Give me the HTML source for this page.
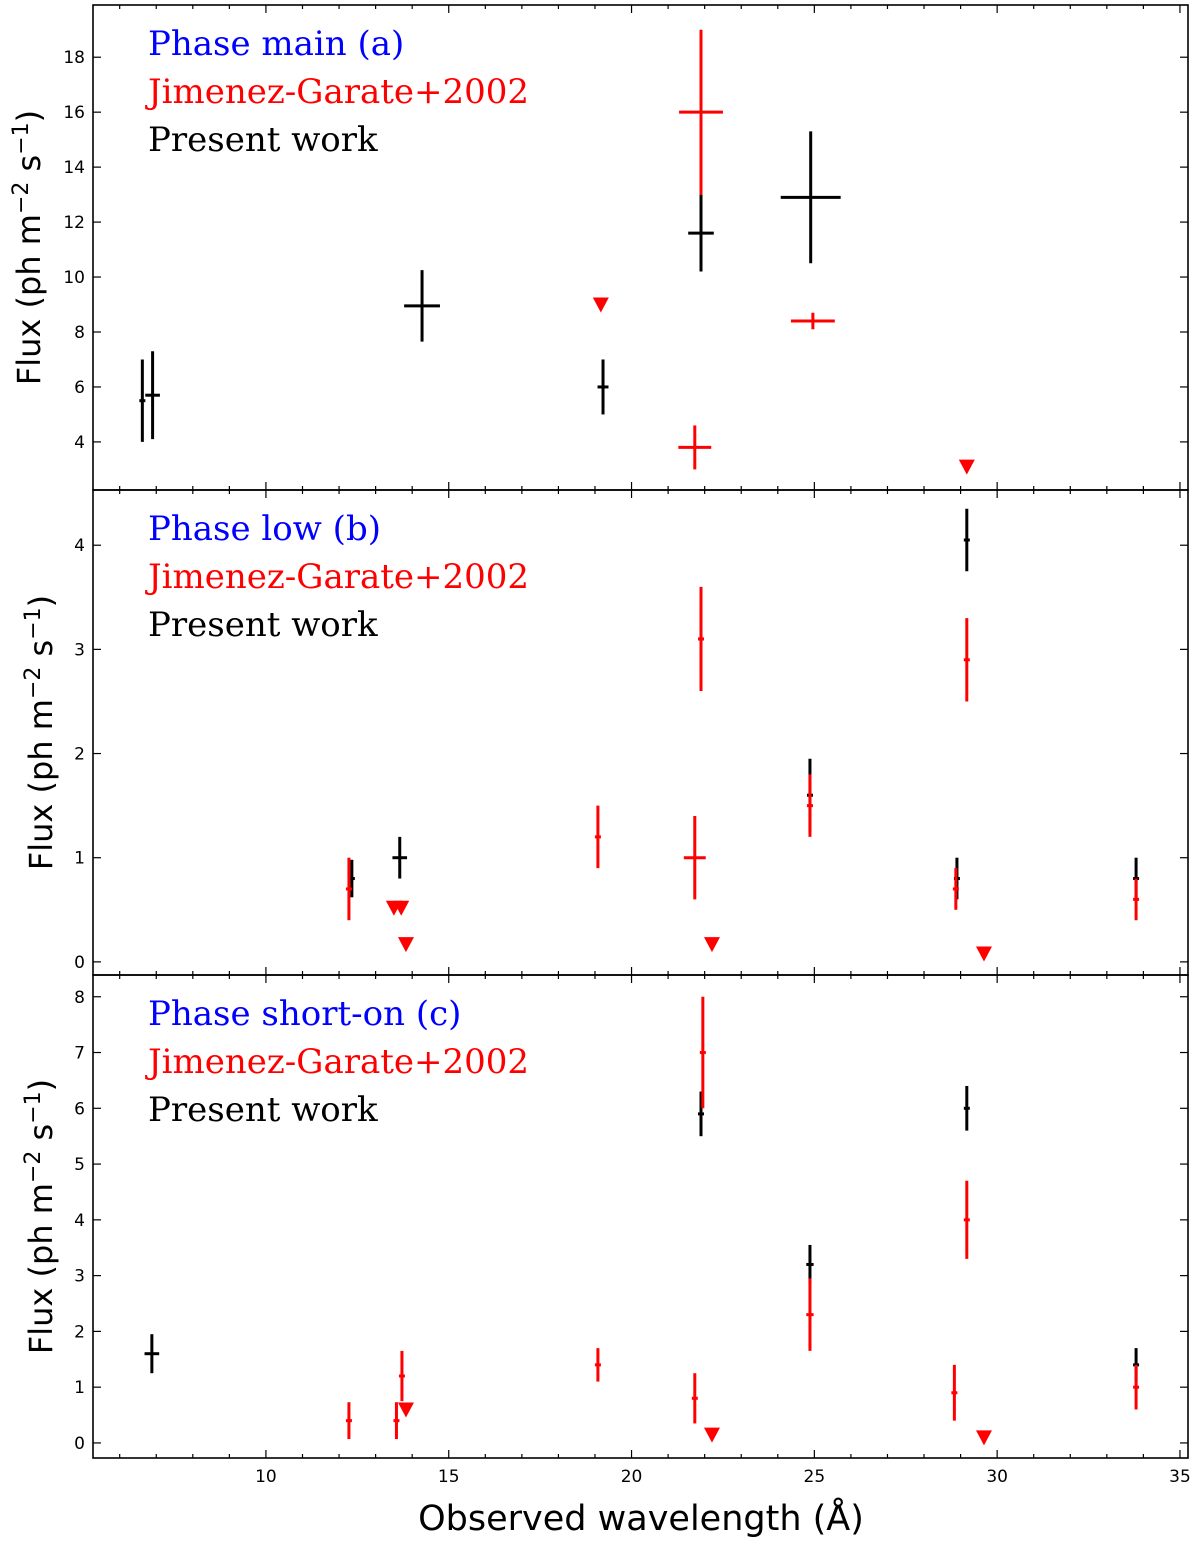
<!DOCTYPE html>
<html><head><meta charset="utf-8"><style>
body{margin:0;background:#fff;}
svg{display:block;}
</style></head><body>
<svg id="chart" width="1200" height="1542" xmlns="http://www.w3.org/2000/svg"></svg>
<script>
// x = wavelength, y = flux, xe = x error, ye = y error
const aBlackX=[6.62,6.9,14.27,19.22,21.9,24.9];
const aBlackY=[5.5,5.7,8.95,6.0,11.6,12.9];
const aBlackXe=[0,0.2,0.49,0.15,0.35,0.82];
const aBlackYe=[1.5,1.6,1.3,1.0,1.4,2.4];
const aRedX=[21.9,21.73,24.96];
const aRedY=[16.0,3.8,8.4];
const aRedXe=[0.6,0.45,0.6];
const aRedYe=[3.0,0.8,0.3];
const aLimX=[19.16,29.17];
const aLimY=[9.0,3.1];

const bBlackX=[12.35,13.66,21.9,29.17,24.88,28.9,33.8];
const bBlackY=[0.8,1.0,3.1,4.05,1.6,0.8,0.8];
const bBlackXe=[0.05,0.2,0,0,0,0,0];
const bBlackYe=[0.18,0.2,0.3,0.3,0.35,0.2,0.2];
const bRedX=[12.27,19.08,21.73,21.9,29.17,24.88,28.87,33.8];
const bRedY=[0.7,1.2,1.0,3.1,2.9,1.5,0.7,0.6];
const bRedXe=[0,0.05,0.3,0,0.05,0.05,0.05,0.05];
const bRedYe=[0.3,0.3,0.4,0.5,0.4,0.3,0.2,0.2];
const bLimX=[13.5,13.7,13.83,22.2,29.64];
const bLimY=[0.52,0.52,0.17,0.17,0.08];

const cBlackX=[6.88,21.9,29.17,24.88,33.8];
const cBlackY=[1.6,5.9,6.0,3.2,1.4];
const cBlackXe=[0.2,0,0.05,0.1,0.05];
const cBlackYe=[0.35,0.4,0.4,0.35,0.3];
const cRedX=[12.27,13.57,13.72,19.08,21.73,21.95,29.17,24.88,28.83,33.8];
const cRedY=[0.4,0.4,1.2,1.4,0.8,7.0,4.0,2.3,0.9,1.0];
const cRedXe=[0,0,0,0.05,0,0.05,0.05,0.1,0.05,0.05];
const cRedYe=[0.33,0.33,0.45,0.3,0.45,1.0,0.7,0.65,0.5,0.4];
const cLimX=[13.83,22.2,29.64];
const cLimY=[0.6,0.15,0.1];

const xTicks=[10,15,20,25,30,35];
const aTicks=[4,6,8,10,12,14,16,18];
const bTicks=[0,1,2,3,4];
const cTicks=[0,1,2,3,4,5,6,7,8];

const NS="http://www.w3.org/2000/svg";
const svg=document.getElementById('chart');
const L=93,R=1188;
const xmin=5.27,xmax=35.22;
function X(v){return L+(v-xmin)/(xmax-xmin)*(R-L);}
function mk(tag,attrs,parent){const e=document.createElementNS(NS,tag);for(const k in attrs)e.setAttribute(k,attrs[k]);(parent||svg).appendChild(e);return e;}

const panels=[
 {key:'a',top:5,bot:490,ymin:2.25,ymax:19.9,ticks:aTicks,title:'Phase main (a)',
  bx:aBlackX,by:aBlackY,bxe:aBlackXe,bye:aBlackYe,rx:aRedX,ry:aRedY,rxe:aRedXe,rye:aRedYe,lx:aLimX,ly:aLimY},
 {key:'b',top:490,bot:975,ymin:-0.126,ymax:4.53,ticks:bTicks,title:'Phase low (b)',
  bx:bBlackX,by:bBlackY,bxe:bBlackXe,bye:bBlackYe,rx:bRedX,ry:bRedY,rxe:bRedXe,rye:bRedYe,lx:bLimX,ly:bLimY},
 {key:'c',top:975,bot:1458,ymin:-0.27,ymax:8.39,ticks:cTicks,title:'Phase short-on (c)',
  bx:cBlackX,by:cBlackY,bxe:cBlackXe,bye:cBlackYe,rx:cRedX,ry:cRedY,rxe:cRedXe,rye:cRedYe,lx:cLimX,ly:cLimY}
];

panels.forEach((p,pi)=>{
 const g=mk('g',{});
 
 
 const Y=v=>p.bot-(v-p.ymin)/(p.ymax-p.ymin)*(p.bot-p.top);
 function errs(xs,ys,xe,ye,col,name){
  xs.forEach((x,i)=>{
   const eg=mk('g',{},g);
   
   
   mk('line',{x1:X(x),x2:X(x),y1:Y(ys[i]-ye[i]),y2:Y(ys[i]+ye[i]),stroke:col,'stroke-width':3},eg);
   const hw=Math.max(X(x+xe[i])-X(x),3);
   mk('line',{x1:X(x)-hw,x2:X(x)+hw,y1:Y(ys[i]),y2:Y(ys[i]),stroke:col,'stroke-width':3},eg);
  });
 }
 errs(p.bx,p.by,p.bxe,p.bye,'#000','present-work');
 errs(p.rx,p.ry,p.rxe,p.rye,'#f00','jimenez-garate');
 p.lx.forEach((x,i)=>{
  const cx=X(x),cy=Y(p.ly[i]);
  const t=mk('polygon',{points:`${cx-8},${cy-7} ${cx+8},${cy-7} ${cx},${cy+8}`,fill:'#f00'},g);
  
  
 });
 const fr=mk('rect',{x:L,y:p.top,width:R-L,height:p.bot-p.top,fill:'none',stroke:'#000','stroke-width':1.6},g);
 
 
 for(let v=6;v<=35;v++){
  const major=v%5===0, len=major?8:4;
  mk('line',{x1:X(v),x2:X(v),y1:p.bot,y2:p.bot-len,stroke:'#000','stroke-width':1.2},g);
  mk('line',{x1:X(v),x2:X(v),y1:p.top,y2:p.top+len,stroke:'#000','stroke-width':1.2},g);
 }
 p.ticks.forEach(v=>{
  mk('line',{x1:L,x2:L+8,y1:Y(v),y2:Y(v),stroke:'#000','stroke-width':1.2},g);
  mk('line',{x1:R,x2:R-8,y1:Y(v),y2:Y(v),stroke:'#000','stroke-width':1.2},g);
  const t=mk('text',{x:L-8,y:Y(v)+6,'text-anchor':'end','font-family':'DejaVu Sans, sans-serif','font-size':17},g);
  t.textContent=v;
  
  
 });
 const lines=[[p.title,'#00f'],['Jimenez-Garate+2002','#f00'],['Present work','#000']];
 lines.forEach((l,i)=>{
  const t=mk('text',{x:148,y:p.top+50+i*48,fill:l[1],'font-family':'DejaVu Serif, serif','font-size':34},g);
  t.textContent=l[0];
  
  
 });
 const cy=(p.top+p.bot)/2;
 const xl=pi===0?40:52;
 const yl=mk('text',{x:xl,y:cy,'text-anchor':'middle','font-family':'DejaVu Sans, sans-serif','font-size':32,transform:`rotate(-90 ${xl} ${cy})`},g);
 yl.innerHTML='Flux (ph m<tspan dy="-12" font-size="22">−2</tspan><tspan dy="12"> s</tspan><tspan dy="-12" font-size="22">−1</tspan><tspan dy="12">)</tspan>';
 
 
});
xTicks.forEach(v=>{
 const t=mk('text',{x:X(v),y:1482,'text-anchor':'middle','font-family':'DejaVu Sans, sans-serif','font-size':17});
 t.textContent=v;
 
 
});
const xt=mk('text',{x:641,y:1530,'text-anchor':'middle','font-family':'DejaVu Sans, sans-serif','font-size':35});
xt.textContent='Observed wavelength (Å)';


</script>
</body></html>
